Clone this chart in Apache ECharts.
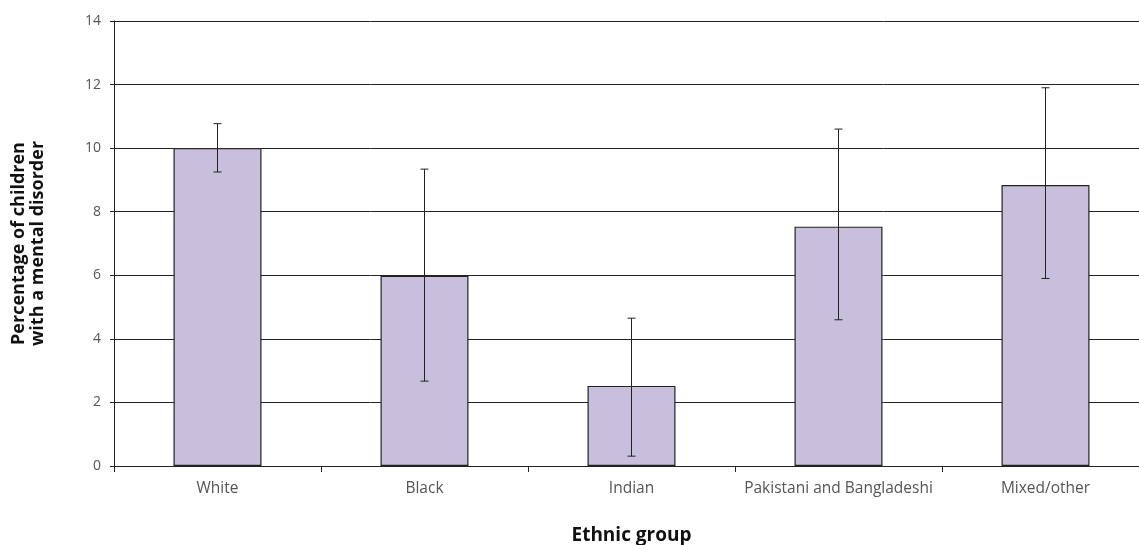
<!DOCTYPE html>
<html><head><meta charset="utf-8">
<script src="https://cdn.jsdelivr.net/npm/echarts@6/dist/echarts.min.js"></script>
<style>html,body{margin:0;padding:0;background:#fff}#c{width:1139px;height:545px}</style>
</head><body><div id="c"></div>
<script>
const categories = ["White", "Black", "Indian", "Pakistani and Bangladeshi", "Mixed/other"];
const values = [10.0, 5.98, 2.52, 7.53, 8.84];
const errLow = [9.25, 2.67, 0.31, 4.6, 5.9];
const errHigh = [10.77, 9.34, 4.65, 10.6, 11.9];
const yTicks = [0, 2, 4, 6, 8, 10, 12, 14];

const chart = echarts.init(document.getElementById('c'));
const errData = categories.map((c, i) => [i, errLow[i], errHigh[i]]);
chart.setOption({
  animation: false,
  grid: {left: 114, right: -10, top: 21, bottom: 79, containLabel: false, outerBoundsMode: 'none'},
  xAxis: {
    type: 'category', data: categories,
    axisLine: {lineStyle: {color: '#222', width: 1}},
    axisTick: {show: true, length: 6, interval: 0, alignWithLabel: false, lineStyle: {color: '#222'}},
    axisLabel: {color: '#555', fontFamily: 'Open Sans', fontSize: 15.5, margin: 15, interval: 0, hideOverlap: false},
    name: 'Ethnic group', nameLocation: 'middle', nameGap: 60,
    nameTextStyle: {fontFamily: 'Open Sans', fontWeight: 'bold', fontSize: 19, color: '#111'}
  },
  yAxis: {
    type: 'value', min: 0, max: 14, interval: 2,
    axisLine: {show: true, lineStyle: {color: '#222', width: 1}},
    axisTick: {show: true, length: 4, lineStyle: {color: '#222'}},
    axisLabel: {color: '#555', fontFamily: 'Open Sans', fontSize: 14, margin: 13,
      formatter: v => yTicks.includes(v) ? String(v) : ''},
    splitLine: {show: true, lineStyle: {color: '#222', width: 1}},
    name: 'Percentage of children\nwith a mental disorder', nameLocation: 'middle', nameGap: 67,
    nameTextStyle: {fontFamily: 'Open Sans', fontWeight: 'bold', fontSize: 18, color: '#111', lineHeight: 19}
  },
  series: [
    {type: 'bar', data: values, barWidth: '42.5%',
     itemStyle: {color: '#c8bfdc', borderColor: '#222', borderWidth: 1.2}},
    {type: 'custom', data: errData, z: 10,
     renderItem: function (params, api) {
       const x = api.coord([api.value(0), 0])[0];
       const lo = api.coord([api.value(0), api.value(1)])[1];
       const hi = api.coord([api.value(0), api.value(2)])[1];
       const hw = 4;
       const st = {stroke: '#222', lineWidth: 1};
       return {type: 'group', children: [
         {type: 'line', shape: {x1: x, y1: lo, x2: x, y2: hi}, style: st},
         {type: 'line', shape: {x1: x - hw, y1: lo, x2: x + hw, y2: lo}, style: st},
         {type: 'line', shape: {x1: x - hw, y1: hi, x2: x + hw, y2: hi}, style: st}
       ]};
     }}
  ]
});
</script></body></html>
